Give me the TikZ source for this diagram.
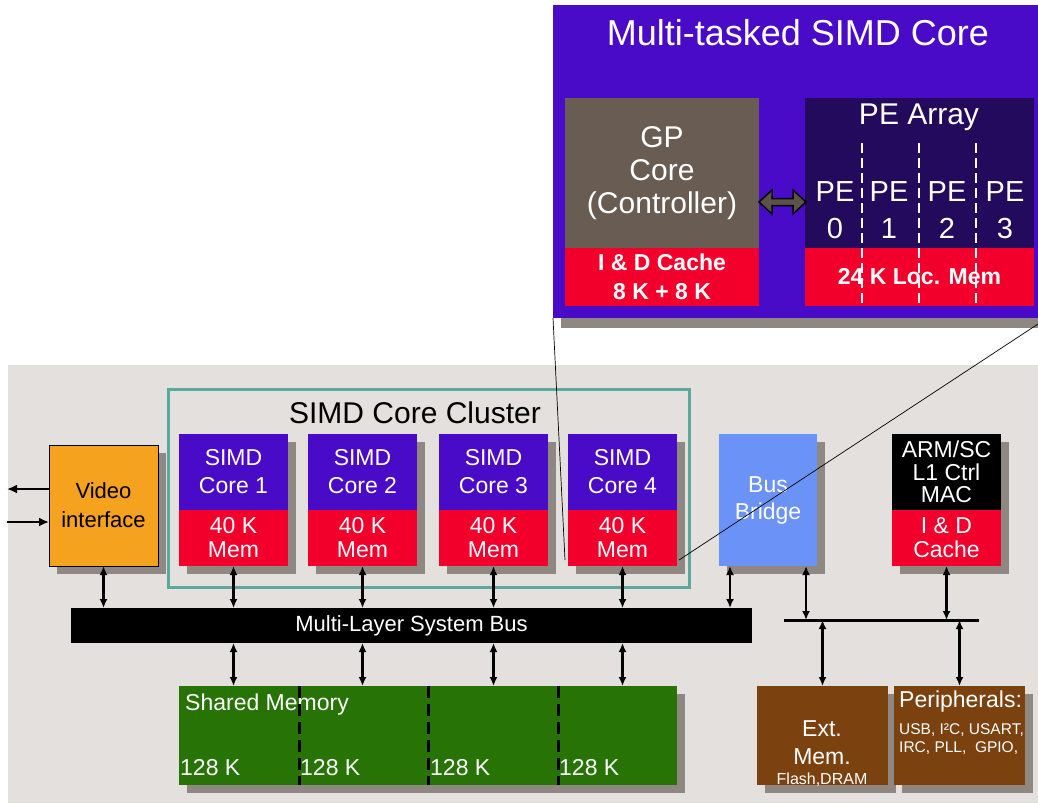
\documentclass[tikz,border=0pt]{standalone}
\usepackage{fontspec}
\setmainfont{Liberation Sans}
\usetikzlibrary{arrows.meta,calc,shadows}
\definecolor{purpleC}{HTML}{4A0BC9}
\definecolor{gpC}{HTML}{685C53}
\definecolor{navyC}{HTML}{230A5C}
\definecolor{redC}{HTML}{F2002B}
\definecolor{orangeC}{HTML}{F5A21F}
\definecolor{tealC}{HTML}{5BA89C}
\definecolor{bgC}{HTML}{E3E0DD}
\definecolor{shadowC}{HTML}{8E8782}
\definecolor{blueC}{HTML}{6B93F7}
\definecolor{greenC}{HTML}{277306}
\definecolor{brownC}{HTML}{7B4210}
\definecolor{arrC}{HTML}{5C5248}
\begin{document}
\begin{tikzpicture}[x=1pt,y=-1pt,
  box/.style={anchor=north west, inner sep=0pt, outer sep=0pt, text=white, align=center, font=\fontsize{23}{28}\selectfont},
  shad/.style={drop shadow={shadow xshift=8pt, shadow yshift=-8pt, fill=shadowC, opacity=1}},
  dar/.style={{Latex[length=9pt,width=8pt]}-{Latex[length=9pt,width=8pt]}, line width=2.6pt},
  ar/.style={-{Latex[length=10pt,width=9pt]}, line width=2.8pt},
  lbl/.style={text=white, inner sep=0pt, font=\fontsize{23}{28}\selectfont},
  zline/.style={line width=0.7pt, black},
]
\useasboundingbox (0,0) rectangle (1038,803);
\fill[white] (0,0) rectangle (1038,803);
\fill[bgC] (8,365) rectangle (1038,803);

% ---------- Multi-tasked SIMD core (zoom) ----------
\node[box, fill=purpleC, minimum width=485pt, minimum height=313pt,
      drop shadow={shadow xshift=8pt, shadow yshift=-10pt, fill=shadowC, opacity=1}] (simd) at (553,5) {};
\node[lbl, font=\fontsize{36}{40}\selectfont] (simdt) at (798,33) {Multi-tasked SIMD Core};
\node[box, fill=gpC, minimum width=194pt, minimum height=150pt, font=\fontsize{30}{33}\selectfont] (gp) at (565,98) {GP\\Core\\(Controller)};
\node[box, fill=redC, minimum width=194pt, minimum height=58pt, font=\bfseries\fontsize{23}{29}\selectfont] (gpc) at (565,248) {I \& D Cache\\8 K + 8 K};
\node[box, fill=navyC, minimum width=229pt, minimum height=150pt] (pe) at (805,98) {};
\node[lbl, font=\fontsize{30}{36}\selectfont] (pet) at (919,117) {PE Array};
\node[box, fill=redC, minimum width=229pt, minimum height=58pt, font=\bfseries\fontsize{23}{28}\selectfont] (pem) at (805,248) {24 K Loc. Mem};
\foreach \i/\x in {0/835,1/889,2/947,3/1005}{
  \node[lbl, align=center, font=\fontsize{29}{37}\selectfont] (pe\i) at (\x,210) {PE\\\i};
}
\foreach \x in {862,919,976}{
  \draw[white, line width=2.5pt, dash pattern=on 10pt off 5pt] (\x,143) -- (\x,306);
}
\draw[fill=arrC, line width=1.5pt, line join=miter]
  (759,202) -- (772,190) -- (772,198.5) -- (793,198.5) -- (793,190) -- (806,202)
  -- (793,214) -- (793,205.5) -- (772,205.5) -- (772,214) -- cycle;

% ---------- cluster ----------
\node[anchor=north west, draw=tealC, line width=3pt, minimum width=521pt, minimum height=198pt, inner sep=0pt] (cluster) at (167,388) {};
\node[inner sep=0pt, font=\fontsize{30}{34}\selectfont] (clt) at (415,413) {SIMD Core Cluster};
\foreach \i/\x in {1/179,2/308,3/439,4/568}{
  \node[box, shad, fill=purpleC, minimum width=109pt, minimum height=76pt] (c\i) at (\x,434) {SIMD\\Core \i};
  \node[box, shad, fill=redC, minimum width=109pt, minimum height=56pt, font=\fontsize{23}{24}\selectfont] (m\i) at (\x,510) {40 K\\Mem};
}

% ---------- other blocks ----------
\node[box, shad, fill=orangeC, draw=black, line width=0.8pt, text=black, minimum width=109pt, minimum height=121pt, font=\fontsize{22}{29}\selectfont] (video) at (49,445) {Video\\interface};
\node[box, shad, fill=blueC, minimum width=98pt, minimum height=132pt, font=\fontsize{23}{27}\selectfont] (bb) at (719,434) {Bus\\Bridge};
\node[box, shad, fill=black, minimum width=109pt, minimum height=76pt, font=\fontsize{23}{22.5}\selectfont] (arm) at (892,434) {ARM/SC\\L1 Ctrl\\MAC};
\node[box, shad, fill=redC, minimum width=109pt, minimum height=56pt, font=\fontsize{23}{24}\selectfont] (armc) at (892,510) {I \& D\\Cache};

\node[box, fill=black, minimum width=681pt, minimum height=35pt, font=\fontsize{22}{25}\selectfont] (bus) at (71,608) {Multi-Layer System Bus};
\coordinate (sbl) at (784,620);
\coordinate (sbr) at (979,620);
\draw[line width=3pt] (sbl) -- (sbr);

\node[box, shad, fill=greenC, minimum width=498pt, minimum height=99pt] (shm) at (179,686) {};
\node[lbl, anchor=west] (shmt) at (185,705) {Shared Memory};
\foreach \i/\x in {1/180,2/300,3/430,4/559}{
  \node[lbl, anchor=west] (k\i) at (\x,768) {128 K};
}
\foreach \x in {299,428,558}{
  \draw[black, line width=3pt, dash pattern=on 12pt off 6pt] (\x,686) -- (\x,785);
}

\node[box, shad, fill=brownC, minimum width=131pt, minimum height=99pt] (ext) at (757,686) {};
\node[lbl] (ext1) at (822,729) {Ext.};
\node[lbl] (ext2) at (822,757) {Mem.};
\node[lbl, font=\fontsize{16}{18}\selectfont] (ext3) at (822,780) {Flash,DRAM};
\node[box, shad, fill=brownC, minimum width=131pt, minimum height=99pt] (per) at (894,686) {};
\node[lbl, anchor=west] (per1) at (899,702) {Peripherals:};
\node[lbl, anchor=west, font=\fontsize{15.5}{18}\selectfont] (per2) at (899,730) {USB, I²C, USART,};
\node[lbl, anchor=west, font=\fontsize{15.5}{18}\selectfont] (per3) at (899,748) {IRC, PLL,\ \ GPIO,};

% ---------- connectors ----------
\coordinate (vo) at (7,489);
\coordinate (vi) at (7,522);
\draw[ar] (video.west |- vo) -- (vo);
\draw[ar] (vi) -- (video.west |- vi);
\draw[dar] (video.south) -- (video.south |- bus.north);
\foreach \i in {1,2,3,4}{
  \draw[dar] (m\i.south) -- (m\i.south |- bus.north);
  \draw[dar] (m\i.south |- bus.south) -- (m\i.south |- shm.north);
}
\coordinate (bbl) at ($(bb.south west)+(11,0)$);
\coordinate (bbr) at ($(bb.south west)+(87,0)$);
\draw[dar] (bbl) -- (bbl |- bus.north);
\draw[dar] (bbr) -- (bbr |- sbl);
\draw[dar] (armc.south) -- (armc.south |- sbl);
\draw[dar] (ext.north |- sbl) -- (ext.north);
\draw[dar] (per.north |- sbl) -- (per.north);

% ---------- zoom lines ----------
\coordinate (zl) at (565,560);
\coordinate (zr) at (679,560);
\coordinate (ze) at (1038,324);
\draw[zline] (zl) -- (simd.south west);
\draw[zline] (zr) -- (ze);
\end{tikzpicture}
\end{document}
